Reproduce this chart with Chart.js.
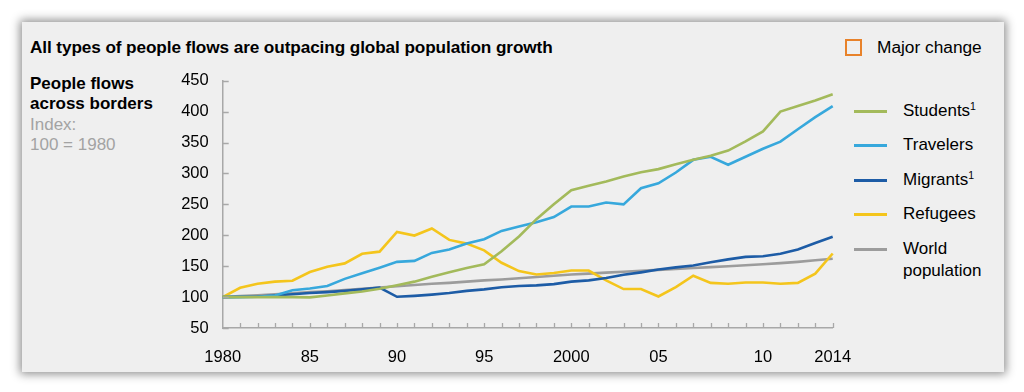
<!DOCTYPE html>
<html>
<head>
<meta charset="utf-8">
<script src="https://cdn.jsdelivr.net/npm/chart.js@4"></script>
<style>
  body { margin: 0; background: #fff; font-family: "Liberation Sans", Arial, Helvetica, sans-serif; }
  #wrap { position: relative; width: 1024px; height: 392px; overflow: hidden; }
  #panel { position: absolute; left: 22px; top: 22px; width: 982px; height: 350px; background: #efefef; box-shadow: 0 0 9px 2px rgba(0,0,0,0.45); }
  #chart { position: absolute; left: 0; top: 0; }
  .txt { position: absolute; white-space: nowrap; color: #000; }
  #title { left: 30px; top: 37px; font-size: 17.2px; font-weight: bold; letter-spacing: -0.1px; }
  #major { left: 877px; top: 37px; font-size: 17.3px; }
  #majorBox { position: absolute; left: 845px; top: 39px; width: 13px; height: 13px; border: 2px solid #e8822a; }
  #side { left: 30px; top: 73.5px; font-size: 17px; line-height: 20.5px; }
  #side b { display: block; }
  #side span { display: block; color: #a3a3a3; }
  .leg { position: absolute; left: 854px; font-size: 17px; line-height: 22px; }
  .leg i { position: absolute; left: 0; top: 10px; width: 33px; height: 3px; }
  .leg div { margin-left: 49px; }
  .leg sup { font-size: 10.5px; vertical-align: 6px; line-height: 0; }
</style>
</head>
<body>
<div id="wrap">
  <div id="panel"></div>
  <div class="txt" id="title">All types of people flows are outpacing global population growth</div>
  <div id="majorBox"></div>
  <div class="txt" id="major">Major change</div>
  <div class="txt" id="side"><b>People flows</b><b>across borders</b><span>Index:</span><span>100 = 1980</span></div>
  <div id="legend"></div>
  <canvas id="chart" width="1024" height="392"></canvas>
</div>
<script>
'use strict';

// tick labels along the x axis (one per year tick)
const tickLabels = ['1980', '', '', '', '', '85', '', '', '', '', '90', '', '', '', '', '95', '', '', '', '',
  '2000', '', '', '', '', '05', '', '', '', '', '', '10', '', '', '', '2014'];

const students = [100, 100, 100, 100, 100, 99.5, 102.5, 106, 109, 113.5, 119, 125, 133, 140, 147, 153, 174, 198,
  226, 250, 273, 280, 287, 295, 302, 307, 315, 322, 328.5, 337, 352, 368, 400, 409, 418, 428];
const travelers = [100, 100, 100.5, 102.5, 111, 114, 118, 129.5, 138.5, 147.5, 157, 158.5, 171.5, 177, 186.5, 193.5, 207, 214,
  221, 229.5, 246.5, 246.5, 253, 250, 276, 284, 301.5, 322, 327, 314, 327, 340, 351.5, 371.5, 391, 409];
const migrants = [100, 100.5, 101, 102.5, 104.5, 106.5, 108, 110, 112.5, 115.5, 100.5, 102, 104, 106.5, 110, 112.5, 116, 118,
  119, 121, 125, 127, 131, 136, 140, 144.5, 148, 151, 156.5, 161, 165, 166, 170, 177, 187.5, 197.5];
const refugees = [100, 115, 121.5, 125, 126.5, 140.5, 149, 154.5, 170, 173.5, 205.5, 199.5, 211, 192.5, 186.5, 175.5, 155.5, 142,
  136.5, 139, 143, 143, 127, 113, 113, 101, 116, 134.5, 123, 121.5, 123.5, 123.5, 121.5, 123, 138, 170.5];
const worldPop = [100, 101.5, 103, 104.5, 106, 108, 109.5, 111.5, 113.5, 115.5, 117.5, 119.5, 121.5, 123, 125, 127, 128.5, 130.5,
  132.5, 134.5, 136.5, 138, 139.5, 141, 142.5, 144, 145.5, 147, 148.5, 150, 151.5, 153, 155, 157, 159.5, 162];

const seriesNames = ['Students<sup>1</sup>', 'Travelers', 'Migrants<sup>1</sup>', 'Refugees', 'World<br>population'];
const seriesData = [students, travelers, migrants, refugees, worldPop];
const seriesColors = ['#a3ba5b', '#37a8dc', '#1d5ca6', '#f4c51c', '#9c9c9c'];

const axisColor = '#a8a8a8';

// tick marks point inward, so draw them on top of the chart area
const innerTicks = {
  id: 'innerTicks',
  afterDatasetsDraw(chart) {
    const { ctx, scales: { x, y }, chartArea } = chart;
    ctx.save();
    ctx.strokeStyle = axisColor;
    ctx.lineWidth = 1.3;
    ctx.beginPath();
    for (let v = 50; v <= 450; v += 50) {
      const py = Math.round(y.getPixelForValue(v)) + 0.5;
      ctx.moveTo(chartArea.left, py);
      ctx.lineTo(chartArea.left + 6, py);
    }
    for (let i = 1; i < tickLabels.length; i++) {
      const px = Math.round(x.getPixelForValue(i)) + 0.5;
      ctx.moveTo(px, chartArea.bottom);
      ctx.lineTo(px, chartArea.bottom - 5);
    }
    ctx.stroke();
    ctx.restore();
  },
};

const chart = new Chart(document.getElementById('chart'), {
  type: 'line',
  data: {
    labels: tickLabels,
    datasets: seriesData.map((data, i) => ({
      label: seriesNames[i],
      data: data,
      borderColor: seriesColors[i],
      borderWidth: 2.6,
      pointRadius: 0,
      tension: 0,
      fill: false,
    })),
  },
  options: {
    responsive: false,
    animation: false,
    layout: { padding: { left: 0, right: 191.3, top: 80.7, bottom: 24 } },
    plugins: { legend: { display: false }, tooltip: { enabled: false } },
    scales: {
      x: {
        type: 'category',
        offset: false,
        grid: { display: false, drawTicks: false },
        border: { color: axisColor, width: 1.5 },
        ticks: {
          autoSkip: false, maxRotation: 0, minRotation: 0, padding: 20, color: '#000',
          font: { family: '"Liberation Sans", Arial, sans-serif', size: 16.5 },
        },
        afterFit: (scale) => { scale.height = 40; },
      },
      y: {
        min: 50,
        max: 450,
        grid: { display: false, drawTicks: false },
        border: { color: axisColor, width: 1.5 },
        ticks: {
          stepSize: 50, padding: 14, color: '#000',
          font: { family: '"Liberation Sans", Arial, sans-serif', size: 16.5 },
        },
        afterFit: (scale) => { scale.width = 222.7; },
      },
    },
  },
  plugins: [innerTicks],
});

// legend built from the same series lists
const legend = document.getElementById('legend');
seriesNames.forEach((name, i) => {
  const row = document.createElement('div');
  row.className = 'leg';
  row.style.top = (100 + i * 34.4) + 'px';
  row.innerHTML = `<i style="background:${seriesColors[i]}"></i><div>${name}</div>`;
  legend.appendChild(row);
});
</script>
</body>
</html>
